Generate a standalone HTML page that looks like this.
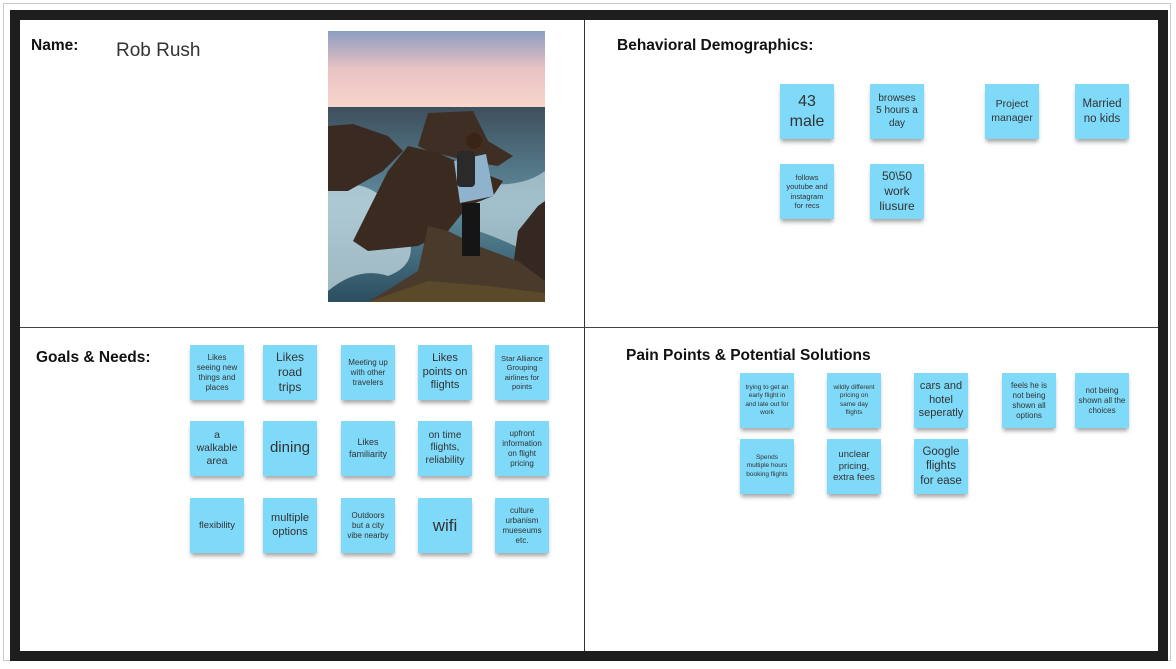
<!DOCTYPE html>
<html><head><meta charset="utf-8"><style>
html,body{margin:0;padding:0;background:#fff;}
body{width:1176px;height:669px;position:relative;overflow:hidden;font-family:"Liberation Sans",sans-serif;}
.outer{position:absolute;left:3px;top:3px;width:1168px;height:658px;border:1px solid #c8c8c8;box-sizing:border-box;background:#fff;}
.frame{position:absolute;left:10px;top:10px;width:1158px;height:651px;background:#1e1e1e;}
.inner{position:absolute;left:20px;top:20px;width:1138px;height:631px;background:#fff;}
.vl{position:absolute;left:584px;top:20px;width:1px;height:631px;background:#333;}
.hl{position:absolute;left:20px;top:327px;width:1138px;height:1px;background:#444;}
.h{position:absolute;font-weight:bold;font-size:15.5px;color:#111;white-space:nowrap;}
.s{position:absolute;width:54px;height:55px;background:#7fd9f8;box-shadow:0 4px 4px -1px rgba(0,0,0,0.35);display:flex;align-items:center;justify-content:center;text-align:center;color:#333;line-height:1.25;box-sizing:border-box;padding:0 6px;}
</style></head><body>
<div class="outer"></div>
<div class="frame"></div>
<div class="inner"></div>
<div class="vl"></div>
<div class="hl"></div>
<div class="h" style="left:31px;top:37px;">Name:</div>
<div style="position:absolute;left:116px;top:40px;font-size:19px;color:#333;">Rob Rush</div>
<div class="h" style="left:617px;top:37px;">Behavioral Demographics:</div>
<div class="h" style="left:36px;top:349px;">Goals &amp; Needs:</div>
<div class="h" style="left:626px;top:347px;">Pain Points &amp; Potential Solutions</div>

<svg style="position:absolute;left:328px;top:31px" width="217" height="271" viewBox="0 0 217 271">
<defs>
<linearGradient id="sky" x1="0" y1="0" x2="0" y2="1"><stop offset="0" stop-color="#8c9cc0"/><stop offset="0.5" stop-color="#e9c2c4"/><stop offset="1" stop-color="#f7d6cc"/></linearGradient>
<linearGradient id="sea" x1="0" y1="0" x2="0" y2="1"><stop offset="0" stop-color="#3e4f5c"/><stop offset="0.5" stop-color="#5f8ea0"/><stop offset="1" stop-color="#2b4e60"/></linearGradient>
</defs>
<rect width="217" height="76" fill="url(#sky)"/>
<rect y="76" width="217" height="195" fill="url(#sea)"/>
<path d="M0 160 Q40 140 70 185 Q100 230 60 245 Q30 235 0 260Z" fill="#cfe3ea" opacity="0.7"/>
<path d="M140 150 Q190 160 217 140 L217 230 Q180 210 150 200Z" fill="#cfe3ea" opacity="0.6"/>
<path d="M0 95 L25 93 L60 105 L75 120 L55 140 L20 160 L0 160Z" fill="#3a2a22"/>
<path d="M90 115 L100 82 L145 80 L160 110 L185 125 L170 135 L140 130 L100 120Z" fill="#3f2e24"/>
<path d="M25 210 L60 140 L80 115 L110 122 L150 140 L175 150 L165 165 L140 175 L120 200 L90 215 L40 220Z" fill="#3b2a20"/>
<path d="M190 200 L210 175 L217 170 L217 271 L180 271Z" fill="#352822"/>
<path d="M40 271 L90 240 L100 195 L120 200 L150 215 L190 230 L217 250 L217 271Z" fill="#4a3a2c"/>
<path d="M40 271 L100 250 L160 255 L217 262 L217 271Z" fill="#5a4a2a"/>
<rect x="134" y="172" width="18" height="53" fill="#151515"/>
<path d="M126 130 L158 123 L166 165 L132 172 Z" fill="#8fb3cc"/>
<rect x="129" y="120" width="18" height="36" rx="4" fill="#2a2a2a"/>
<circle cx="146" cy="110" r="8" fill="#3a2418"/>
</svg>

<!-- Behavioral -->
<div class="s" style="left:780px;top:84px;font-size:16px;">43<br>male</div>
<div class="s" style="left:870px;top:84px;font-size:10px;">browses 5 hours a day</div>
<div class="s" style="left:985px;top:84px;font-size:10.5px;padding:0 2px;">Project manager</div>
<div class="s" style="left:1075px;top:84px;font-size:11.5px;">Married no kids</div>
<div class="s" style="left:780px;top:164px;font-size:7.5px;">follows youtube and instagram for recs</div>
<div class="s" style="left:870px;top:164px;font-size:12px;">50\50 work liusure</div>

<!-- Goals -->
<div class="s" style="left:190px;top:345px;font-size:8px;">Likes seeing new things and places</div>
<div class="s" style="left:263px;top:345px;font-size:12px;">Likes<br>road<br>trips</div>
<div class="s" style="left:341px;top:345px;font-size:8px;">Meeting up with other travelers</div>
<div class="s" style="left:418px;top:345px;font-size:11px;padding:0 3px;">Likes points on flights</div>
<div class="s" style="left:495px;top:345px;font-size:7.5px;padding:0 3px;">Star Alliance Grouping airlines for points</div>
<div class="s" style="left:190px;top:421px;font-size:10.5px;">a<br>walkable<br>area</div>
<div class="s" style="left:263px;top:421px;font-size:15px;padding:0;">dining</div>
<div class="s" style="left:341px;top:421px;font-size:9px;padding:0 2px;">Likes familiarity</div>
<div class="s" style="left:418px;top:421px;font-size:10px;padding:0 2px;">on time flights, reliability</div>
<div class="s" style="left:495px;top:421px;font-size:8px;padding:0 3px;">upfront information on flight pricing</div>
<div class="s" style="left:190px;top:498px;font-size:9.5px;padding:0;">flexibility</div>
<div class="s" style="left:263px;top:498px;font-size:11px;padding:0 2px;">multiple options</div>
<div class="s" style="left:341px;top:498px;font-size:8px;padding:0 4px;">Outdoors but a city vibe nearby</div>
<div class="s" style="left:418px;top:498px;font-size:17px;">wifi</div>
<div class="s" style="left:495px;top:498px;font-size:8px;">culture urbanism mueseums etc.</div>

<!-- Pain points -->
<div class="s" style="left:740px;top:373px;font-size:6.5px;padding:0 5px;">trying to get an early flight in and late out for work</div>
<div class="s" style="left:827px;top:373px;font-size:6.5px;padding:0 5px;">wildly different pricing on same day flights</div>
<div class="s" style="left:914px;top:373px;font-size:11px;padding:0 2px;">cars and hotel seperatly</div>
<div class="s" style="left:1002px;top:373px;font-size:8px;">feels he is not being shown all options</div>
<div class="s" style="left:1075px;top:373px;font-size:8px;padding:0 3px;">not being shown all the choices</div>
<div class="s" style="left:740px;top:439px;font-size:6.5px;padding:0 4px;">Spends multiple hours booking flights</div>
<div class="s" style="left:827px;top:439px;font-size:9.5px;padding:0 3px;">unclear pricing, extra fees</div>
<div class="s" style="left:914px;top:439px;font-size:11.5px;padding:0 4px;">Google flights for ease</div>
</body></html>
